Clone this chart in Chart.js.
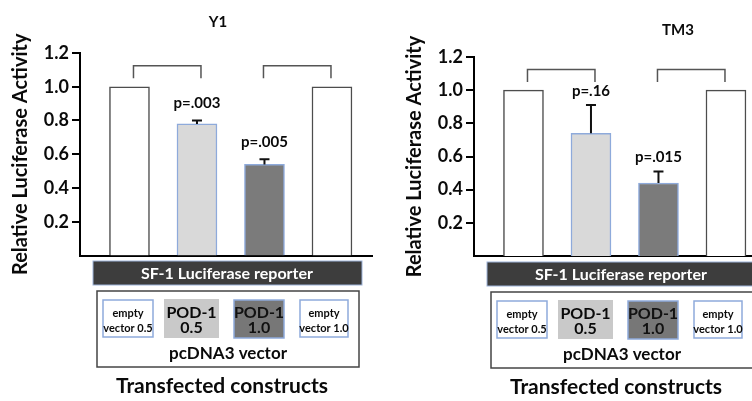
<!DOCTYPE html>
<html>
<head>
<meta charset="utf-8">
<script src="https://cdn.jsdelivr.net/npm/chart.js@4.4.1/dist/chart.umd.min.js"></script>
<style>
  html, body { margin: 0; padding: 0; background: #fff; width: 752px; height: 401px; overflow: hidden; position: relative; }
  canvas { position: absolute; top: 0; }
  #c1 { left: 0; }
  #c2 { left: 394px; }
</style>
</head>
<body>
<canvas id="c1" width="394" height="401"></canvas>
<canvas id="c2" width="394" height="401"></canvas>
<script>
// Transfected constructs (one bar each)
const groups = ['empty vector 0.5', 'POD-1 0.5', 'POD-1 1.0', 'empty vector 1.0'];
const groupBoxLabels = [['empty', 'vector 0.5'], ['POD-1', '0.5'], ['POD-1', '1.0'], ['empty', 'vector 1.0']];

// Y1 cells: relative luciferase activity, SEM, p-values
const y1Values = [1.0, 0.78, 0.54, 1.0];
const y1Errors = [0, 0.02, 0.03, 0];
const y1PLabels = ['', 'p=.003', 'p=.005', ''];

// TM3 cells
const tm3Values = [1.0, 0.74, 0.44, 1.0];
const tm3Errors = [0, 0.17, 0.07, 0];
const tm3PLabels = ['', 'p=.16', 'p=.015', ''];

// Y axis ticks
const yTicks = [0.2, 0.4, 0.6, 0.8, 1.0, 1.2];

const FONT = 'Lato, "Open Sans", "DejaVu Sans", sans-serif';
const INK = '#0a0a0a';
const barFill = ['#ffffff', '#d9d9d9', '#7b7b7b', '#ffffff'];
const barEdge = ['#4d4d4d', '#8eaadb', '#8eaadb', '#4d4d4d'];

function drawCentered(ctx, text, x, y, font, color) {
  ctx.font = font;
  ctx.fillStyle = color;
  ctx.textAlign = 'center';
  ctx.textBaseline = 'middle';
  ctx.fillText(text, x, y);
}

function makePanel(canvasId, title, values, errors, pLabels, opt) {
  const marks = {
    id: 'panelMarks',
    afterDatasetsDraw(chart) {
      const ctx = chart.ctx;
      const xs = chart.scales.x, ys = chart.scales.y;
      const cx = i => xs.getPixelForValue(i + 1);
      ctx.save();

      // upper error bars
      ctx.strokeStyle = '#111';
      ctx.lineWidth = 2;
      values.forEach((v, i) => {
        const e = errors[i];
        if (!e) return;
        const x = cx(i), yb = ys.getPixelForValue(v), yt = ys.getPixelForValue(v + e);
        ctx.beginPath();
        ctx.moveTo(x, yb); ctx.lineTo(x, yt);
        ctx.moveTo(x - 5, yt); ctx.lineTo(x + 5, yt);
        ctx.stroke();
      });

      // p-values above the error bars
      values.forEach((v, i) => {
        if (!pLabels[i]) return;
        const yt = ys.getPixelForValue(v + errors[i]);
        drawCentered(ctx, pLabels[i], cx(i), yt - opt.pGap, 'bold 15px ' + FONT, INK);
      });

      // comparison brackets
      ctx.strokeStyle = '#555';
      ctx.lineWidth = 1.5;
      [[0, 1, 4], [2, 3, -1]].forEach(([a, b, shift]) => {
        const xa = cx(a) + shift, xb = cx(b) + shift;
        const top = ys.getPixelForValue(1.125), leg = ys.getPixelForValue(1.05);
        ctx.beginPath();
        ctx.moveTo(xa, leg); ctx.lineTo(xa, top); ctx.lineTo(xb, top); ctx.lineTo(xb, leg);
        ctx.stroke();
      });

      // panel title
      drawCentered(ctx, title, opt.titleX, opt.titleY, 'bold 15px ' + FONT, INK);
      ctx.restore();
    },
    afterDraw(chart) {
      const ctx = chart.ctx;
      const dy = opt.boxShift;
      ctx.save();

      // reporter bar
      ctx.fillStyle = '#3d3d3d';
      ctx.fillRect(93, 261 + dy, 269, 24);
      ctx.strokeStyle = '#9db3d9';
      ctx.lineWidth = 1;
      ctx.strokeRect(93, 261 + dy, 269, 24);
      drawCentered(ctx, 'SF-1 Luciferase reporter', 227, 273.5 + dy, 'bold 16px ' + FONT, '#ffffff');

      // vector box
      ctx.strokeStyle = '#444';
      ctx.lineWidth = 1.5;
      ctx.strokeRect(97, 291 + dy, 262, 76);

      const boxes = [
        { x: 103, y: 300, w: 50, h: 37, fill: '#ffffff', edge: '#8eaadb', small: true, text: INK },
        { x: 164, y: 299, w: 55, h: 39, fill: '#c9c9c9', edge: null, small: false, text: INK },
        { x: 234, y: 300, w: 50, h: 38, fill: '#777777', edge: '#8eaadb', small: false, text: '#111' },
        { x: 300, y: 300, w: 48, h: 37, fill: '#ffffff', edge: '#8eaadb', small: true, text: INK }
      ];
      boxes.forEach((b, i) => {
        ctx.fillStyle = b.fill;
        ctx.fillRect(b.x, b.y + dy, b.w, b.h);
        if (b.edge) {
          ctx.strokeStyle = b.edge;
          ctx.lineWidth = 1.5;
          ctx.strokeRect(b.x, b.y + dy, b.w, b.h);
        }
        const mx = b.x + b.w / 2;
        const font = b.small ? 'bold 11px ' + FONT : 'bold 16px ' + FONT;
        drawCentered(ctx, groupBoxLabels[i][0], mx, 313 + dy, font, b.text);
        drawCentered(ctx, groupBoxLabels[i][1], mx, 328 + dy, font, b.text);
      });

      drawCentered(ctx, 'pcDNA3 vector', 228, 354 + dy, 'bold 17px ' + FONT, INK);
      drawCentered(ctx, 'Transfected constructs', 222, 386 + dy, 'bold 21px ' + FONT, INK);
      ctx.restore();
    }
  };

  return new Chart(document.getElementById(canvasId), {
    type: 'bar',
    data: {
      datasets: [{
        label: title,
        data: values.map((v, i) => ({ x: i + 1, y: v })),
        backgroundColor: barFill,
        borderColor: barEdge,
        borderWidth: 1.5,
        barThickness: 40
      }]
    },
    options: {
      responsive: false,
      animation: false,
      layout: { padding: { top: opt.top, bottom: opt.bottom, left: 0, right: 22 } },
      plugins: { legend: { display: false }, tooltip: { enabled: false }, title: { display: false } },
      scales: {
        x: {
          type: 'linear',
          offset: false,
          min: 0.267, max: 4.593,
          ticks: { display: false },
          grid: { display: false, drawTicks: false, offset: false },
          border: { display: true, color: '#000', width: 2 },
          afterFit(scale) { scale.height = 0; }
        },
        y: {
          min: 0, max: 1.2,
          afterBuildTicks(scale) { scale.ticks = yTicks.map(v => ({ value: v })); },
          afterFit(scale) { scale.width = 80; },
          ticks: {
            padding: 3,
            color: INK,
            font: { family: FONT, size: 18, weight: 'bold' },
            callback: v => Number(v).toFixed(1)
          },
          grid: { drawOnChartArea: false, drawTicks: true, tickLength: 8, color: '#000', lineWidth: 2 },
          border: { display: true, color: '#000', width: 2 },
          title: {
            display: true,
            text: 'Relative Luciferase Activity',
            color: INK,
            font: { family: FONT, size: 20, weight: 'bold' },
            padding: { top: 9, bottom: 0 }
          }
        }
      }
    },
    plugins: [marks]
  });
}

makePanel('c1', 'Y1', y1Values, y1Errors, y1PLabels,
  { top: 53, bottom: 145.5, titleX: 218, titleY: 22, pGap: 17, boxShift: 0 });
makePanel('c2', 'TM3', tm3Values, tm3Errors, tm3PLabels,
  { top: 57, bottom: 145, titleX: 284, titleY: 30, pGap: 14, boxShift: 1 });
</script>
</body>
</html>
